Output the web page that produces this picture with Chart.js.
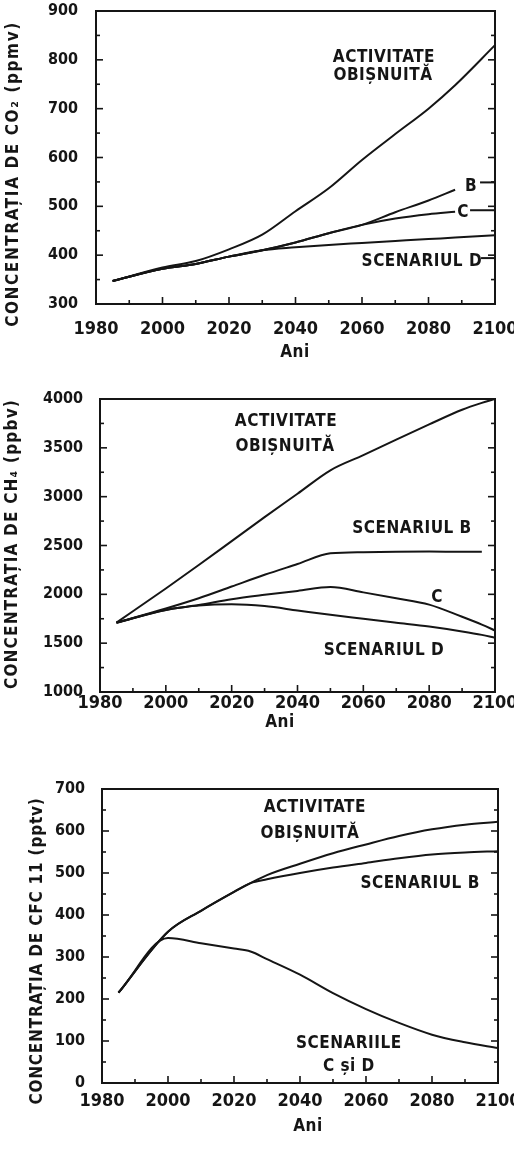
<!DOCTYPE html>
<html lang="ro">
<head>
<meta charset="utf-8">
<script src="https://cdn.jsdelivr.net/npm/chart.js@4"></script>
<style>
  body { margin: 0; background: #fff; }
  canvas { position: absolute; left: 0; }
</style>
</head>
<body>
<canvas id="co2Chart" width="514" height="375" style="top:0"></canvas>
<canvas id="ch4Chart" width="514" height="385" style="top:375px"></canvas>
<canvas id="cfcChart" width="514" height="394" style="top:760px"></canvas>

<script>
/******************************************************
 * DATA
 ******************************************************/
const yearTicks = [1980, 2000, 2020, 2040, 2060, 2080, 2100];

const co2Years = [1985, 2000, 2010, 2020, 2030, 2040, 2050, 2060, 2070, 2080, 2088, 2100];
const co2Usual = [347, 375, 388, 412, 442, 490, 537, 595, 648, 700, 748, 830];
const co2B     = [347, 372, 382, 397, 410, 426, 445, 462, 488, 512, 534, null];
const co2C     = [347, 372, 382, 397, 410, 426, 445, 462, 475, 484, 489, null];
const co2D     = [347, 372, 382, 397, 410, 416, 421, 425, 429, 433, 436, 441];
const co2Ticks = [300, 400, 500, 600, 700, 800, 900];

const ch4Years = [1985, 2000, 2010, 2020, 2030, 2040, 2050, 2060, 2070, 2080, 2090, 2096, 2100];
const ch4Usual = [1710, 2060, 2300, 2545, 2790, 3030, 3270, 3425, 3585, 3740, 3890, 3960, 4000];
const ch4B     = [1710, 1855, 1960, 2080, 2200, 2310, 2420, 2432, 2436, 2438, 2436, 2436, null];
const ch4C     = [1710, 1840, 1890, 1950, 1995, 2035, 2075, 2020, 1960, 1895, 1770, 1690, 1630];
const ch4D     = [1710, 1840, 1885, 1898, 1880, 1835, 1790, 1750, 1710, 1670, 1620, 1585, 1555];
const ch4Ticks = [1000, 1500, 2000, 2500, 3000, 3500, 4000];

const cfcYears = [1985, 2000, 2010, 2020, 2025, 2030, 2040, 2050, 2060, 2070, 2080, 2090, 2100];
const cfcUsual = [215, 360, 410, 455, 476, 495, 522, 547, 568, 588, 604, 615, 622];
const cfcB     = [215, 360, 410, 455, 476, 485, 500, 513, 524, 535, 544, 549, 552];
const cfcCD    = [215, 345, 333, 320, 313, 295, 258, 214, 176, 143, 115, 97, 83];
const cfcTicks = [0, 100, 200, 300, 400, 500, 600, 700];

const INK = "#151515";
const FONT = "'DejaVu Sans Condensed', 'DejaVu Sans', sans-serif";


/******************************************************
 * FRAME, INWARD TICKS, LABELS
 ******************************************************/
const framePlugin = {
  id: "frame",
  afterDatasetsDraw(chart, args, o) {
    const { ctx, chartArea: a, scales: { x, y } } = chart;
    ctx.save();
    ctx.strokeStyle = INK;
    ctx.fillStyle = INK;
    ctx.lineCap = "butt";

    const seg = (x1, y1, x2, y2) => {
      ctx.beginPath(); ctx.moveTo(x1, y1); ctx.lineTo(x2, y2); ctx.stroke();
    };

    ctx.lineWidth = 1.6;
    for (let v = y.min; v <= y.max + 1e-6; v += o.yMinor) {
      const py = y.getPixelForValue(v);
      const len = (v - y.min) % o.yMajor === 0 ? 7 : 4;
      seg(a.left, py, a.left + len, py);
      seg(a.right - len, py, a.right, py);
    }
    for (let v = x.min; v <= x.max; v += 10) {
      const px = x.getPixelForValue(v);
      const len = (v - x.min) % 20 === 0 ? 7 : 4;
      seg(px, a.bottom, px, a.bottom - len);
    }

    ctx.lineWidth = 2;
    ctx.strokeRect(a.left, a.top, a.right - a.left, a.bottom - a.top);

    // dashes from labels to the right axis
    (o.dashes || []).forEach(d => {
      const py = y.getPixelForValue(d.y);
      seg(x.getPixelForValue(d.x), py, a.right, py);
    });

    ctx.font = "bold 17px " + FONT;
    ctx.letterSpacing = "0.5px";
    ctx.textAlign = "center";
    ctx.textBaseline = "middle";
    o.notes.forEach(n => {
      ctx.fillText(n.text, x.getPixelForValue(n.x), y.getPixelForValue(n.y));
    });

    // axis titles
    ctx.fillText("Ani", o.xTitle[0], o.xTitle[1]);
    ctx.font = "bold 17px " + FONT;
    ctx.letterSpacing = o.titleSpacing;
    ctx.translate(o.yTitle[0], o.yTitle[1]);
    ctx.rotate(-Math.PI / 2);
    ctx.fillText(o.yTitleText, 0, 0);
    ctx.restore();
  }
};


/******************************************************
 * CHART BUILDER
 ******************************************************/
function toPoints(years, values) {
  return years
    .map((yr, i) => ({ x: yr, y: values[i] }))
    .filter(p => p.y !== null);
}

function makeChart(id, cfg) {
  const canvas = document.getElementById(id);
  const datasets = cfg.series.map(s => ({
    data: toPoints(cfg.years, s),
    borderColor: INK,
    borderWidth: 2,
    pointRadius: 0,
    fill: false,
    cubicInterpolationMode: "monotone"
  }));

  return new Chart(canvas.getContext("2d"), {
    type: "line",
    data: { datasets: datasets },
    options: {
      responsive: false,
      animation: false,
      layout: { padding: { top: cfg.top, right: 514 - cfg.right, left: 0, bottom: 0 } },
      plugins: {
        legend: { display: false },
        tooltip: { enabled: false },
        frame: {
          yMinor: cfg.yMinor,
          yMajor: cfg.yTicks[1] - cfg.yTicks[0],
          notes: cfg.notes,
          dashes: cfg.dashes,
          xTitle: cfg.xTitle,
          yTitle: cfg.yTitle,
          yTitleText: cfg.yTitleText,
          titleSpacing: cfg.titleSpacing
        }
      },
      scales: {
        x: {
          type: "linear",
          min: 1980,
          max: 2100,
          grid: { display: false, drawTicks: false },
          border: { display: false },
          afterBuildTicks: s => { s.ticks = yearTicks.map(v => ({ value: v })); },
          afterFit: s => {
            s.height = canvas.height - cfg.bottom;
            s.paddingLeft = 0;
            s.paddingRight = 0;
          },
          ticks: {
            color: INK,
            padding: cfg.xPad,
            maxRotation: 0,
            font: { family: FONT, size: 18, weight: "bold" },
            callback: v => String(v)
          }
        },
        y: {
          min: cfg.yTicks[0],
          max: cfg.yTicks[cfg.yTicks.length - 1],
          grid: { display: false, drawTicks: false },
          border: { display: false },
          afterBuildTicks: s => { s.ticks = cfg.yTicks.map(v => ({ value: v })); },
          afterFit: s => {
            s.width = cfg.left;
            s.paddingTop = 0;
            s.paddingBottom = 0;
          },
          ticks: {
            color: INK,
            padding: cfg.yPad,
            font: { family: FONT, size: 16, weight: "bold" },
            callback: v => String(v)
          }
        }
      }
    },
    plugins: [framePlugin]
  });
}


/******************************************************
 * THE THREE PANELS
 ******************************************************/
makeChart("co2Chart", {
  years: co2Years,
  series: [co2Usual, co2B, co2C, co2D],
  yTicks: co2Ticks, yMinor: 50,
  top: 11, bottom: 304, left: 96, right: 495,
  xPad: 15, yPad: 18,
  xTitle: [295, 353], yTitle: [14, 174],
  yTitleText: "CONCENTRAȚIA DE CO₂ (ppmv)",
  titleSpacing: "1.6px",
  notes: [
    { text: "ACTIVITATE", x: 2066.6, y: 804 },
    { text: "OBIȘNUITĂ", x: 2066.3, y: 767 },
    { text: "B", x: 2092.8, y: 540 },
    { text: "C", x: 2090.4, y: 488 },
    { text: "SCENARIUL D", x: 2078, y: 386 }
  ],
  dashes: [
    { x: 2095.5, y: 549 },
    { x: 2092.5, y: 492 },
    { x: 2095.8, y: 394 }
  ]
});

makeChart("ch4Chart", {
  years: ch4Years,
  series: [ch4Usual, ch4B, ch4C, ch4D],
  yTicks: ch4Ticks, yMinor: 250,
  top: 24, bottom: 317, left: 100, right: 495,
  xPad: 1, yPad: 17,
  xTitle: [280, 348], yTitle: [13, 169],
  yTitleText: "CONCENTRAȚIA DE CH₄ (ppbv)",
  titleSpacing: "1.2px",
  notes: [
    { text: "ACTIVITATE", x: 2036.5, y: 3764 },
    { text: "OBIȘNUITĂ", x: 2036.2, y: 3508 },
    { text: "SCENARIUL B", x: 2074.8, y: 2669 },
    { text: "C", x: 2082.4, y: 1962 },
    { text: "SCENARIUL D", x: 2066.3, y: 1420 }
  ],
  dashes: []
});

makeChart("cfcChart", {
  years: cfcYears,
  series: [cfcUsual, cfcB, cfcCD],
  yTicks: cfcTicks, yMinor: 50,
  top: 29, bottom: 323, left: 102, right: 498,
  xPad: 8, yPad: 17,
  xTitle: [308, 367], yTitle: [38, 191],
  yTitleText: "CONCENTRAȚIA DE CFC 11 (pptv)",
  titleSpacing: "0.8px",
  notes: [
    { text: "ACTIVITATE", x: 2044.5, y: 655 },
    { text: "OBIȘNUITĂ", x: 2043, y: 593 },
    { text: "SCENARIUL B", x: 2076.4, y: 474 },
    { text: "SCENARIILE", x: 2054.8, y: 95 },
    { text: "C și D", x: 2054.8, y: 40 }
  ],
  dashes: []
});
</script>
</body>
</html>
